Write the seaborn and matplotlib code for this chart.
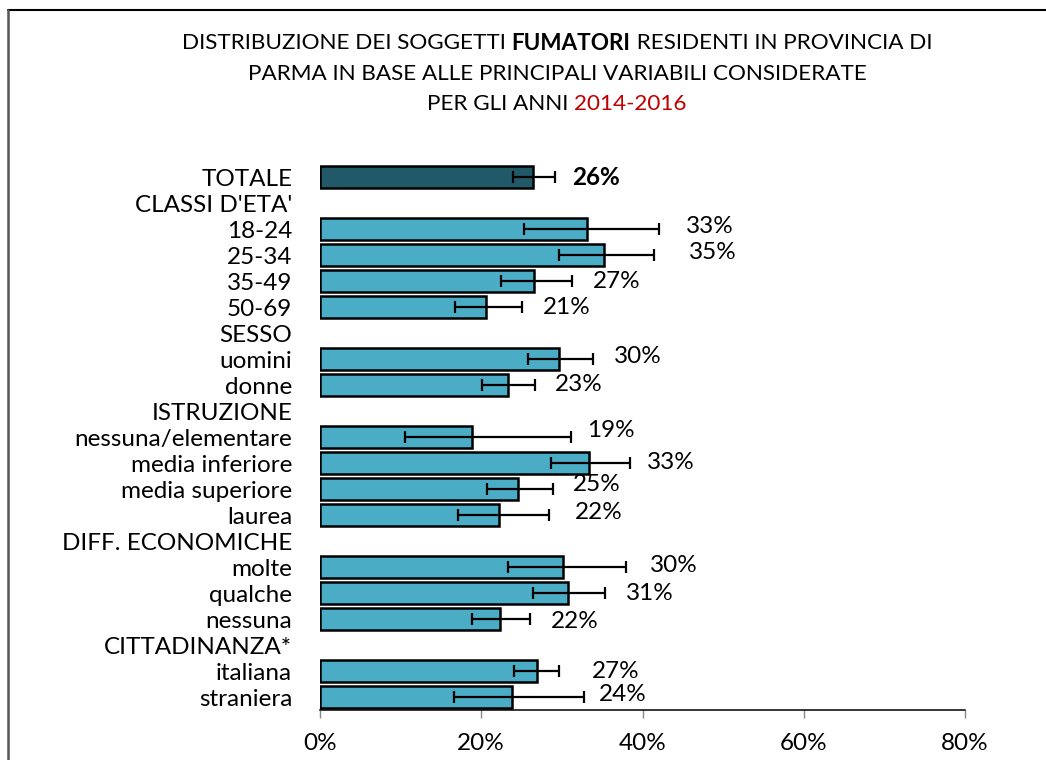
import numpy as np
import pandas as pd
import matplotlib
matplotlib.use("Agg")
import matplotlib.pyplot as plt
from matplotlib.lines import Line2D
from matplotlib.ticker import FuncFormatter
import seaborn as sns

# ---- data -------------------------------------------------------------
categories = [
    "TOTALE", "CLASSI D'ETA'", "18-24", "25-34", "35-49", "50-69",
    "SESSO", "uomini", "donne",
    "ISTRUZIONE", "nessuna/elementare", "media inferiore", "media superiore", "laurea",
    "DIFF. ECONOMICHE", "molte", "qualche", "nessuna",
    "CITTADINANZA*", "italiana", "straniera",
]
nan = np.nan
prevalence = [26.4, nan, 33.1, 35.2, 26.6, 20.6, nan, 29.7, 23.3, nan,
              18.8, 33.4, 24.6, 22.2, nan, 30.1, 30.7, 22.3, nan, 26.9, 23.8]
ci_low = [23.9, nan, 25.3, 29.6, 22.4, 16.7, nan, 25.8, 20.1, nan,
          10.6, 28.6, 20.7, 17.1, nan, 23.3, 26.4, 18.9, nan, 24.0, 16.6]
ci_high = [29.2, nan, 42.1, 41.4, 31.3, 25.1, nan, 33.9, 26.7, nan,
           31.1, 38.5, 28.9, 28.4, nan, 38.0, 35.3, 26.0, nan, 29.7, 32.7]
group = ["totale"] + ["dettaglio"] * (len(categories) - 1)
x_ticks = [0, 20, 40, 60, 80]

# label nudges (points) relative to the upper end of each error bar
label_dx = [12, 0, 19, 25, 15, 15, 0, 15, 14, 0, 12, 12, 14, 19, 0, 17, 15, 15, 0, 23, 11]
label_dy = [0, 0, 1.5, 2, 0, 0, 0, 1.5, 0.5, 0, 5, 0.5, 3, 1.5, 0, 1, -0.5, -2, 0, 0, 1.5]

# ---- style ------------------------------------------------------------
sns.set_theme(style="white")
plt.rcParams["font.family"] = ["Lato", "DejaVu Sans"]

BAR_LIGHT = "#4BACC6"
BAR_DARK = "#215968"
FS = 17.5

df = pd.DataFrame({
    "categoria": categories,
    "valore": prevalence,
    "basso": ci_low,
    "alto": ci_high,
    "gruppo": group,
})
bars = df.dropna(subset=["valore"])

fig = plt.figure(figsize=(10.46, 7.60), dpi=100)
ax = fig.add_axes([320 / 1046, 1 - 709.5 / 760, (965 - 320) / 1046, (709.5 - 163.5) / 760])

sns.barplot(
    data=bars, x="valore", y="categoria", order=categories,
    hue="gruppo", palette={"totale": BAR_DARK, "dettaglio": BAR_LIGHT},
    dodge=False, legend=False, width=0.86, saturation=1,
    edgecolor="black", linewidth=1.8, errorbar=None, ax=ax,
)

# confidence intervals
pos = np.array([categories.index(c) for c in bars["categoria"]])
vals = bars["valore"].to_numpy()
ax.errorbar(
    vals, pos,
    xerr=[vals - bars["basso"].to_numpy(), bars["alto"].to_numpy() - vals],
    fmt="none", ecolor="black", elinewidth=1.6, capsize=4.6, capthick=1.6, zorder=5,
)

# value labels
for (_, row), p in zip(bars.iterrows(), pos):
    ax.annotate(
        f"{row['valore']:.0f}%", xy=(row["alto"], p),
        xytext=(label_dx[p], label_dy[p]), textcoords="offset points",
        ha="left", va="center", fontsize=FS,
        fontweight="bold" if row["gruppo"] == "totale" else "normal",
        color="black",
    )

ax.set_xlim(0, 80)
ax.set_ylim(len(categories) - 0.5 - 0.02, -0.52)
ax.set_xticks(x_ticks)
ax.xaxis.set_major_formatter(FuncFormatter(lambda v, _: f"{v:.0f}%"))
ax.set_xlabel("")
ax.set_ylabel("")
ax.tick_params(axis="x", which="major", bottom=True, direction="out", length=5.8,
               width=1, color="#888888", labelsize=FS, pad=11, labelcolor="black")
ax.tick_params(axis="y", length=0, labelsize=FS, pad=20, labelcolor="black")
for side in ("top", "right", "left"):
    ax.spines[side].set_visible(False)
ax.spines["bottom"].set_color("black")
ax.spines["bottom"].set_linewidth(1.1)
ax.grid(False)

# ---- title with bold and coloured runs ---------------------------------
title_lines = [
    [("DISTRIBUZIONE DEI SOGGETTI ", "normal", "black"), ("FUMATORI", "bold", "black"),
     (" RESIDENTI IN PROVINCIA DI", "normal", "black")],
    [("PARMA IN BASE ALLE PRINCIPALI VARIABILI CONSIDERATE", "normal", "black")],
    [("PER GLI ANNI ", "normal", "black"), ("2014-2016", "normal", "#C00000")],
]
title_y = [43, 74, 104]
center_x = 557
renderer = fig.canvas.get_renderer()
for line, ypx in zip(title_lines, title_y):
    pieces = []
    for txt, weight, col in line:
        t = fig.text(0, 1 - ypx / 760, txt, fontsize=16.2, fontweight=weight,
                     color=col, ha="left", va="center")
        pieces.append(t)
    widths = [t.get_window_extent(renderer).width for t in pieces]
    x = center_x - sum(widths) / 2
    for t, w in zip(pieces, widths):
        t.set_x(x / 1046)
        x += w

# ---- outer frame ------------------------------------------------------
fig.add_artist(Line2D([7.5 / 1046, 1], [1 - 10 / 760] * 2, transform=fig.transFigure,
                      color="black", lw=1.5))
fig.add_artist(Line2D([7.5 / 1046] * 2, [0, 1 - 10 / 760], transform=fig.transFigure,
                      color="#555555", lw=1.8))

fig.savefig("out.png", dpi=100)
